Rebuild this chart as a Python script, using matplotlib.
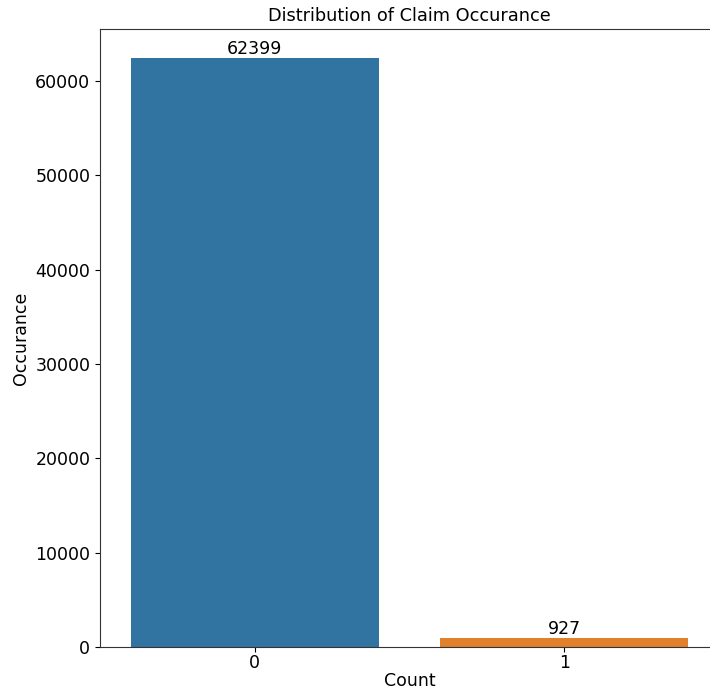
import matplotlib
matplotlib.use("Agg")
import matplotlib.pyplot as plt

categories = ["0", "1"]
counts = [62399, 927]
bar_colors = ["#3274a1", "#e1812c"]

plt.rcParams['font.family'] = ['DejaVu Sans']

fig = plt.figure(figsize=(7.1, 6.9), dpi=100)
ax = fig.add_axes([100 / 710, 43 / 690, 619 / 710, 618 / 690])

bars = ax.bar(categories, counts, width=0.8, color=bar_colors)
ax.set_xlim(-0.5, 1.5)
ax.set_ylim(0, 65500)

for rect, val in zip(bars, counts):
    ax.text(rect.get_x() + rect.get_width() / 2, val, str(val),
            ha="center", va="bottom", fontsize=12.5)

ax.set_title("Distribution of Claim Occurance", fontsize=12.8)
ax.set_xlabel("Count", fontsize=12.5, labelpad=0)
ax.set_ylabel("Occurance", fontsize=12.5)
ax.tick_params(labelsize=12.5)
ax.tick_params(axis="x", pad=1.5)
for spine in ax.spines.values():
    spine.set_color("#333333")

fig.savefig("out.png", dpi=100)
